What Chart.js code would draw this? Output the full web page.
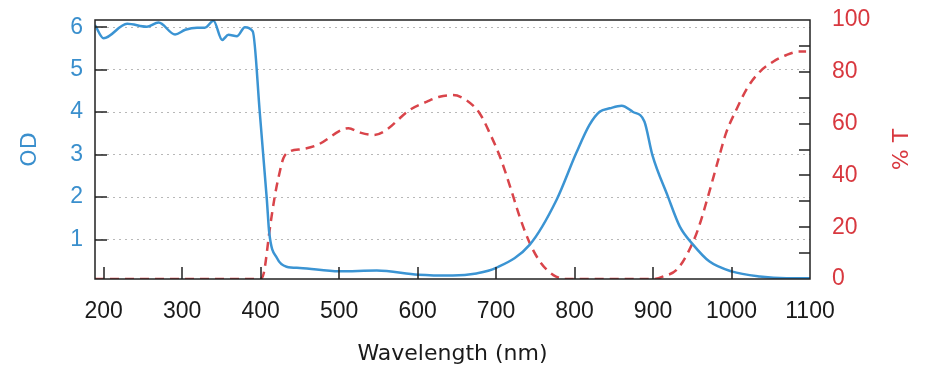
<!DOCTYPE html>
<html><head><meta charset="utf-8">
<script src="https://cdn.jsdelivr.net/npm/chart.js@4"></script>
<style>html,body{margin:0;padding:0;background:#fff}#wrap{width:928px;height:378px}</style>
</head><body><div id="wrap"><canvas id="c" width="928" height="378"></canvas></div>
<script>
// ---- data ----
const odWavelength = [189,200,230,255,270,291,304,319,329,340,351,359,370,380,390,399,408,411,421,433,450,500,548,601,645,675,700,743,777,802,819,832,845,860,874,889,899,919,934,951,972,1000,1036,1070,1100];
const odValues     = [6.05,5.74,6.08,6.01,6.11,5.83,5.94,5.99,5.99,6.15,5.70,5.82,5.79,6.00,5.90,3.98,1.93,1.16,0.56,0.36,0.33,0.25,0.27,0.17,0.15,0.20,0.33,0.88,1.93,3.03,3.70,4.01,4.09,4.15,4.01,3.78,3.00,2.01,1.31,0.88,0.48,0.25,0.13,0.09,0.09];
const tWavelength  = [189,399,404,412,418,423,429,437,454,472,505,512,527,544,558,590,612,628,645,662,679,692,705,718,730,743,756,773,790,900,915,930,944,957,970,983,993,1006,1021,1036,1053,1070,1086,1095];
const tValues      = [0,0,2.2,20,31.8,39.5,46.6,49.2,50.2,51.7,57.8,58.2,56.5,55.6,57.1,65.3,68.5,70.4,71.0,69.1,64,56.3,47.2,35.6,24.1,13.8,6.7,1.5,0,0,1.2,3.5,9.9,18.9,31.8,45.9,56.3,65.3,74.2,80,83.9,86.5,87.8,87.8];
const xTickValues  = [200,300,400,500,600,700,800,900,1000,1100];
const odTickValues = [1,2,3,4,5,6];
const tTickValues  = [0,20,40,60,80,100];
const tMinorTicks  = [10,20,30,40,50,60,70,80,90];

const BLUE = '#3b94d3', RED = '#d9444a', BLUE_TXT = '#3a8fcd', RED_TXT = '#d8383f', INK = '#1a1a1a';
const tickFont = {family:'"Liberation Sans", Arial, sans-serif', size:23};
const titleFont = {family:'"DejaVu Sans", sans-serif', size:22};

const frame = {
  id:'frame',
  afterDatasetsDraw(chart){
    const {ctx, chartArea:a, scales:{x,y,y2}} = chart;
    ctx.save();
    ctx.strokeStyle = '#222'; ctx.lineWidth = 1.5;
    ctx.beginPath();
    xTickValues.forEach(v => { if (v >= 1100) return; const px = Math.round(x.getPixelForValue(v)); ctx.moveTo(px, a.bottom); ctx.lineTo(px, a.bottom - 12); });
    odTickValues.forEach(v => { const py = Math.round(y.getPixelForValue(v)); ctx.moveTo(a.left, py); ctx.lineTo(a.left + 12, py); });
    tMinorTicks.forEach(v => { const py = Math.round(y2.getPixelForValue(v)); ctx.moveTo(a.right, py); ctx.lineTo(a.right - 11, py); });
    ctx.stroke();
    ctx.strokeRect(a.left, a.top, a.right - a.left, a.bottom - a.top);
    ctx.fillStyle = RED_TXT;
    ctx.font = titleFont.size + 'px ' + titleFont.family;
    ctx.textAlign = 'center'; ctx.textBaseline = 'middle';
    ctx.translate(y2.left + 92, (a.top + a.bottom) / 2);
    ctx.rotate(-Math.PI / 2);
    ctx.fillText('% T', 0, 0);
    ctx.restore();
  }
};

new Chart(document.getElementById('c'), {
  type:'scatter',
  data:{datasets:[
    {label:'OD', data: odWavelength.map((w,i)=>({x:w, y:odValues[i]})), yAxisID:'y', showLine:true,
     borderColor:BLUE, borderWidth:2.5, pointRadius:0, cubicInterpolationMode:'monotone', fill:false},
    {label:'% T', data: tWavelength.map((w,i)=>({x:w, y:tValues[i]})), yAxisID:'y2', showLine:true,
     borderColor:RED, borderWidth:2.5, borderDash:[9,6], pointRadius:0, cubicInterpolationMode:'monotone', fill:false}
  ]},
  options:{
    responsive:false, animation:false, devicePixelRatio:1,
    layout:{padding:{top:20, left:0, right:0, bottom:0}},
    plugins:{legend:{display:false}, tooltip:{enabled:false}},
    scales:{
      x:{type:'linear', position:'bottom', min:189, max:1100,
        afterBuildTicks:s=>{ s.ticks = xTickValues.map(v=>({value:v})); },
        afterFit:s=>{ s.height = 99; s.paddingLeft = 0; s.paddingRight = 0; },
        grid:{display:false}, border:{display:false},
        ticks:{color:INK, font:tickFont, padding:11, maxRotation:0, autoSkip:false, callback:v=>String(v)},
        title:{display:true, text:'Wavelength (nm)', color:INK, font:titleFont, padding:{top:0, bottom:11}}},
      y:{type:'linear', position:'left', min:0.07, max:6.17,
        afterBuildTicks:s=>{ s.ticks = odTickValues.map(v=>({value:v})); },
        afterFit:s=>{ s.width = 95; s.paddingTop = 0; s.paddingBottom = 0; },
        grid:{color:'#b8b8b8', lineWidth:1, drawTicks:false},
        border:{display:false, dash:[2,4]},
        ticks:{color:BLUE_TXT, font:tickFont, padding:12, callback:v=>String(v)},
        title:{display:true, text:'OD', color:BLUE_TXT, font:titleFont, padding:{top:17, bottom:0}}},
      y2:{type:'linear', position:'right', min:0, max:100,
        afterBuildTicks:s=>{ s.ticks = tTickValues.map(v=>({value:v})); },
        afterFit:s=>{ s.width = 118; s.paddingTop = 0; s.paddingBottom = 0; },
        grid:{display:false, drawTicks:false}, border:{display:false},
        ticks:{color:RED_TXT, font:tickFont, padding:22, callback:v=>String(v)}}
    }
  },
  plugins:[frame]
});
</script></body></html>
